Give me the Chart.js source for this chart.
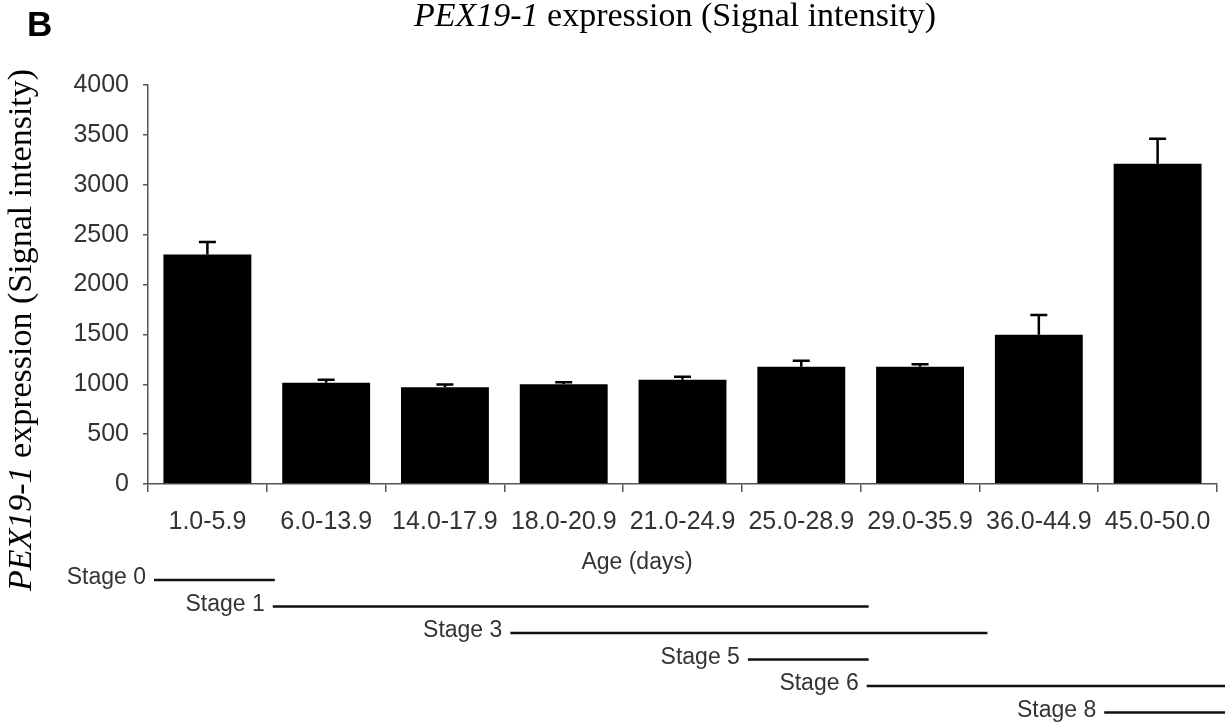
<!DOCTYPE html>
<html>
<head>
<meta charset="utf-8">
<script src="https://cdn.jsdelivr.net/npm/chart.js@4.4.1/dist/chart.umd.min.js"></script>
<style>
  html, body { margin: 0; padding: 0; background: #fff; }
  #wrap { width: 1229px; height: 723px; position: relative; }
</style>
</head>
<body>
<div id="wrap"><canvas id="pexChart"></canvas></div>
<script>
// Age groups (days) and PEX19-1 signal intensity
const ageGroups = ['1.0-5.9', '6.0-13.9', '14.0-17.9', '18.0-20.9', '21.0-24.9',
                   '25.0-28.9', '29.0-35.9', '36.0-44.9', '45.0-50.0'];
const meanSignal = [2300, 1015, 970, 1000, 1045, 1175, 1175, 1495, 3210];
const errSignal  = [125, 30, 28, 20, 30, 60, 25, 200, 250];

// Developmental stages, given as first/last age group they span
const stageNames = ['Stage 0', 'Stage 1', 'Stage 3', 'Stage 5', 'Stage 6', 'Stage 8'];
const stageFrom  = [0, 1, 3, 5, 6, 8];
const stageTo    = [0, 5, 6, 5, 8, 8];

const SANS = '"Liberation Sans", Arial, sans-serif';
const SERIF = '"Liberation Serif", "Times New Roman", serif';
const titleParts = [
    { text: 'PEX19-1', italic: true },
    { text: ' expression (Signal intensity)', italic: false }
];

// draw text made of italic / upright pieces, centred on x
function drawMixed(ctx, parts, x, y, size) {
    let total = 0;
    parts.forEach(p => {
        ctx.font = (p.italic ? 'italic ' : '') + size + 'px ' + SERIF;
        p.w = ctx.measureText(p.text).width;
        total += p.w;
    });
    let cx = x - total / 2;
    parts.forEach(p => {
        ctx.font = (p.italic ? 'italic ' : '') + size + 'px ' + SERIF;
        ctx.fillText(p.text, cx, y);
        cx += p.w;
    });
}

const errorBars = {
    id: 'errorBars',
    afterDatasetsDraw(chart) {
        const ctx = chart.ctx;
        const y = chart.scales.y;
        const meta = chart.getDatasetMeta(0);
        ctx.save();
        ctx.strokeStyle = '#000';
        ctx.lineWidth = 2.5;
        meta.data.forEach((bar, i) => {
            const top = y.getPixelForValue(meanSignal[i] + errSignal[i]);
            ctx.beginPath();
            ctx.moveTo(bar.x, bar.y);
            ctx.lineTo(bar.x, top);
            ctx.moveTo(bar.x - 8.5, top);
            ctx.lineTo(bar.x + 8.5, top);
            ctx.stroke();
        });
        ctx.restore();
    }
};

const decorations = {
    id: 'decorations',
    afterDraw(chart) {
        const ctx = chart.ctx;
        const x = chart.scales.x;
        const half = (x.getPixelForValue(1) - x.getPixelForValue(0)) / 2;
        ctx.save();
        ctx.fillStyle = '#000';
        ctx.textAlign = 'left';
        ctx.textBaseline = 'alphabetic';

        // panel letter
        ctx.font = 'bold 35px ' + SANS;
        ctx.fillText('B', 27, 36);

        // top title
        drawMixed(ctx, titleParts, 675, 26, 34);

        // y axis title
        ctx.save();
        ctx.translate(31, 330);
        ctx.rotate(-Math.PI / 2);
        drawMixed(ctx, titleParts, 0, 0, 34);
        ctx.restore();

        // x axis title
        ctx.fillStyle = '#333';
        ctx.font = '23px ' + SANS;
        ctx.textAlign = 'center';
        ctx.fillText('Age (days)', 637, 569);

        // stage bars under the axis
        ctx.textAlign = 'right';
        ctx.strokeStyle = '#111';
        ctx.lineWidth = 2.5;
        stageNames.forEach((name, i) => {
            const ly = 580 + i * 26.5;
            const x1 = x.getPixelForValue(stageFrom[i]) - half + 6;
            const x2 = x.getPixelForValue(stageTo[i]) + half + 8;
            ctx.beginPath();
            ctx.moveTo(x1, ly);
            ctx.lineTo(x2, ly);
            ctx.stroke();
            ctx.fillText(name, x1 - 8, ly + 4);
        });
        ctx.restore();
    }
};

document.addEventListener('DOMContentLoaded', function () {
    new Chart(document.getElementById('pexChart'), {
        type: 'bar',
        data: {
            labels: ageGroups,
            datasets: [{
                label: 'PEX19-1 expression',
                data: meanSignal,
                backgroundColor: '#000',
                borderWidth: 0,
                categoryPercentage: 1,
                barPercentage: 0.74
            }]
        },
        options: {
            responsive: true,
            maintainAspectRatio: false,
            animation: false,
            layout: { padding: { top: 85, right: 12, left: 0, bottom: 0 } },
            plugins: {
                legend: { display: false },
                tooltip: { enabled: false }
            },
            scales: {
                x: {
                    grid: { drawOnChartArea: false, drawTicks: true, tickLength: 8, color: '#555', lineWidth: 1.5, offset: true },
                    border: { color: '#555', width: 1.5 },
                    ticks: { color: '#333', font: { family: SANS, size: 25 }, padding: 15, maxRotation: 0, autoSkip: false },
                    afterFit: s => { s.height = 239; }
                },
                y: {
                    min: 0,
                    max: 4000,
                    grid: { drawOnChartArea: false, drawTicks: true, tickLength: 5, color: '#555', lineWidth: 1.5 },
                    border: { color: '#555', width: 1.5 },
                    ticks: { stepSize: 500, color: '#333', font: { family: SANS, size: 25 }, padding: 14,
                             callback: v => String(v) },
                    afterFit: s => { s.width = 148; }
                }
            }
        },
        plugins: [errorBars, decorations]
    });
});
</script>
</body>
</html>
